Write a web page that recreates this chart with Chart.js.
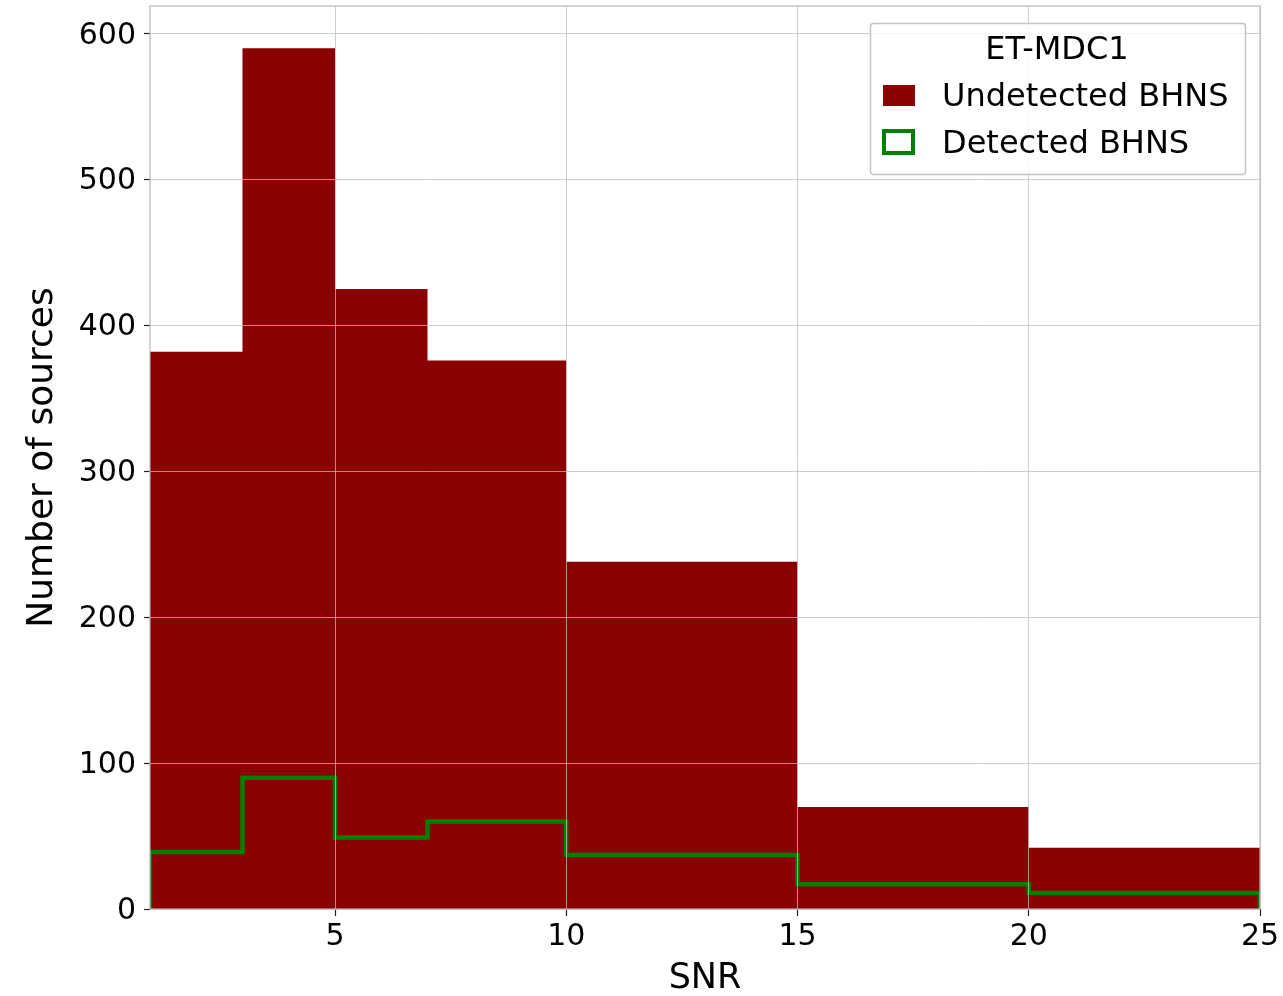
<!DOCTYPE html>
<html><head><meta charset="utf-8">
<script src="https://cdn.jsdelivr.net/npm/chart.js@4.4.1/dist/chart.umd.min.js"></script>
<style>html,body{margin:0;padding:0;background:#fff;} #wrap{width:1283px;height:996px;position:relative}</style>
</head><body><div id="wrap"><canvas id="c" width="1283" height="996"></canvas></div>
<script>
const binEdges = [1, 3, 5, 7, 10, 15, 20, 25];
const undetectedCounts = [382, 590, 425, 376, 238, 70, 42];
const detectedCounts = [39, 90, 49, 60, 37, 17, 11];
const xTickValues = [5, 10, 15, 20, 25];
const yTickValues = [0, 100, 200, 300, 400, 500, 600];
const legendTitle = 'ET-MDC1';
const seriesNames = ['Undetected BHNS', 'Detected BHNS'];
const xTitle = 'SNR';
const yTitle = 'Number of sources';

function stepPoints(edges, counts) {
  const pts = [{x: edges[0], y: 0}];
  counts.forEach((c, i) => pts.push({x: edges[i], y: c}));
  pts.push({x: edges[edges.length - 1], y: counts[counts.length - 1]});
  pts.push({x: edges[edges.length - 1], y: 0});
  return pts;
}

const FONT = 'DejaVu Sans';
const RED = '#8b0000';
const GREEN = '#008000';

const framePlugin = {
  id: 'frame',
  afterDraw(chart) {
    const {ctx, chartArea: a} = chart;
    ctx.save();
    ctx.strokeStyle = '#b8b8b8';
    ctx.lineWidth = 1.2;
    ctx.strokeRect(a.left, a.top, a.right - a.left, a.bottom - a.top);
    // legend
    const bx = 870.5, by = 23.5, bw = 375, bh = 151;
    ctx.fillStyle = 'rgba(255,255,255,0.8)';
    ctx.beginPath();
    if (ctx.roundRect) ctx.roundRect(bx, by, bw, bh, 3); else ctx.rect(bx, by, bw, bh);
    ctx.fill();
    ctx.strokeStyle = '#c4c4c4';
    ctx.lineWidth = 1.5;
    ctx.stroke();
    ctx.fillStyle = '#000';
    ctx.font = '32px "' + FONT + '"';
    ctx.textBaseline = 'middle';
    ctx.textAlign = 'center';
    ctx.fillText(legendTitle, 1057, 51);
    ctx.textAlign = 'left';
    ctx.fillStyle = RED;
    ctx.fillRect(883, 85, 32, 21);
    ctx.strokeStyle = GREEN;
    ctx.lineWidth = 4;
    ctx.strokeRect(884, 131, 29, 22);
    ctx.fillStyle = '#000';
    ctx.fillText(seriesNames[0], 942, 98);
    ctx.fillText(seriesNames[1], 942, 145);
    ctx.restore();
  }
};

new Chart(document.getElementById('c'), {
  type: 'line',
  data: {
    datasets: [
      {
        label: seriesNames[1],
        data: stepPoints(binEdges, detectedCounts),
        stepped: 'before',
        borderColor: GREEN,
        borderWidth: 4.5,
        fill: false,
        pointRadius: 0,
        order: 0
      },
      {
        label: seriesNames[0],
        data: stepPoints(binEdges, undetectedCounts),
        stepped: 'before',
        borderColor: RED,
        borderWidth: 0,
        backgroundColor: RED,
        fill: 'origin',
        pointRadius: 0,
        order: 1
      }
    ]
  },
  options: {
    responsive: false,
    devicePixelRatio: 1,
    animation: false,
    layout: {padding: {top: 6, right: 23, left: 0, bottom: 0}},
    plugins: {legend: {display: false}, tooltip: {enabled: false}},
    scales: {
      x: {
        type: 'linear',
        min: binEdges[0],
        max: binEdges[binEdges.length - 1],
        afterBuildTicks: s => { s.ticks = xTickValues.map(v => ({value: v})); },
        afterFit: s => { s.height = 87; s.paddingLeft = 0; s.paddingRight = 0; },
        grid: {color: 'rgba(190,190,190,0.75)', lineWidth: 1, tickLength: 7, tickColor: '#222', tickWidth: 1.2, z: 1},
        border: {display: false},
        ticks: {color: '#000', font: {family: FONT, size: 30}, padding: 3, maxRotation: 0},
        title: {display: true, text: xTitle, color: '#000', font: {family: FONT, size: 35, lineHeight: 0.9}, padding: {top: 0, bottom: 1}}
      },
      y: {
        type: 'linear',
        min: 0,
        max: 619,
        afterBuildTicks: s => { s.ticks = yTickValues.map(v => ({value: v})); },
        afterFit: s => { s.width = 150; s.paddingTop = 0; s.paddingBottom = 0; },
        grid: {color: 'rgba(190,190,190,0.75)', lineWidth: 1, tickLength: 6, tickColor: '#222', tickWidth: 1.2, z: 1},
        border: {display: false},
        ticks: {color: '#000', font: {family: FONT, size: 30}, padding: 8, labelOffset: 2},
        title: {display: true, text: yTitle, color: '#000', font: {family: FONT, size: 36, lineHeight: 1.2}, padding: {top: 21, bottom: 0}}
      }
    }
  },
  plugins: [framePlugin]
});
</script>
</body></html>
